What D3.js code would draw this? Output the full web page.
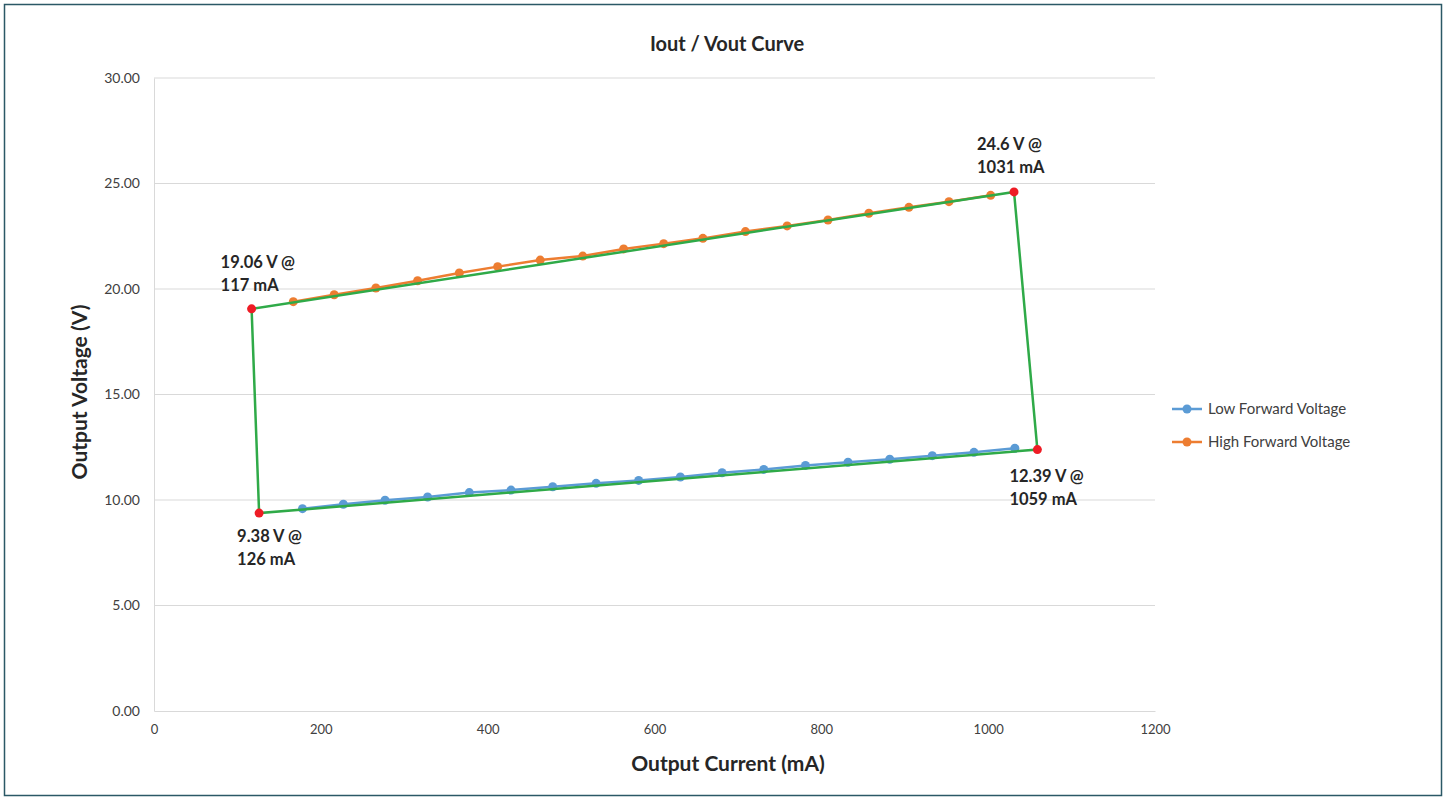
<!DOCTYPE html>
<html>
<head>
<meta charset="utf-8">
<script src="https://cdn.jsdelivr.net/npm/d3@7"></script>
<style>
  html, body { margin: 0; padding: 0; background: #fff; }
  svg { display: block; }
</style>
</head>
<body>
<svg id="chart" width="1445" height="799"></svg>
<script>
// ---- Data ----
const lowCurrent  = [178, 227, 277, 328, 378, 428, 478, 530, 581, 631, 681, 731, 781, 832, 882, 933, 983, 1032];
const lowVoltage  = [9.59, 9.80, 9.99, 10.14, 10.35, 10.47, 10.63, 10.79, 10.93, 11.09, 11.29, 11.45, 11.64, 11.79, 11.93, 12.10, 12.26, 12.45];
const highCurrent = [167, 216, 266, 316, 366, 412, 463, 514, 563, 611, 658, 709, 759, 808, 857, 905, 953, 1003];
const highVoltage = [19.40, 19.73, 20.05, 20.39, 20.76, 21.06, 21.37, 21.56, 21.90, 22.15, 22.40, 22.72, 22.99, 23.27, 23.59, 23.87, 24.14, 24.44];
const boxCurrent  = [117, 1031, 1059, 126, 117];
const boxVoltage  = [19.06, 24.6, 12.39, 9.38, 19.06];
const cornerLabels = [
  { i: 0, lines: ["19.06 V @", "117 mA"] },
  { i: 1, lines: ["24.6 V @", "1031 mA"] },
  { i: 2, lines: ["12.39 V @", "1059 mA"] },
  { i: 3, lines: ["9.38 V @", "126 mA"] }
];
const xTicks = [0, 200, 400, 600, 800, 1000, 1200];
const yTicks = [0, 5, 10, 15, 20, 25, 30];
const seriesNames = ["Low Forward Voltage", "High Forward Voltage"];
const seriesColors = ["#5b9bd5", "#ed7d31"];

// ---- Layout ----
const svg = d3.select("#chart");
const W = 1445, H = 799;
const plot = { left: 154, right: 1155, top: 78, bottom: 711 };
const FONT = "Lato, 'Open Sans', sans-serif";

svg.append("rect").attr("x", 4.5).attr("y", 4.5).attr("width", W - 8).attr("height", H - 8)
  .attr("fill", "#fff").attr("stroke", "#2b5866").attr("stroke-width", 1.5);

const x = d3.scaleLinear().domain([0, 1200]).range([plot.left, plot.right]);
const y = d3.scaleLinear().domain([0, 30]).range([plot.bottom, plot.top]);

// gridlines
svg.append("g").selectAll("line").data(yTicks.filter(d => d > 0)).join("line")
  .attr("x1", plot.left).attr("x2", plot.right)
  .attr("y1", d => y(d)).attr("y2", d => y(d))
  .attr("stroke", "#d9d9d9").attr("stroke-width", 1);

// axes
const yAxis = svg.append("g").attr("transform", `translate(${plot.left},0)`)
  .call(d3.axisLeft(y).tickValues(yTicks).tickFormat(d3.format(".2f")).tickSize(0).tickPadding(14));
yAxis.select(".domain").attr("stroke", "#d9d9d9");
yAxis.selectAll("text").attr("font-family", FONT).attr("font-size", 14).attr("fill", "#404040");

const xAxis = svg.append("g").attr("transform", `translate(0,${plot.bottom})`)
  .call(d3.axisBottom(x).tickValues(xTicks).tickFormat(d3.format("d")).tickSize(0).tickPadding(14));
xAxis.select(".domain").attr("stroke", "#d9d9d9");
xAxis.selectAll("text").attr("font-family", FONT).attr("font-size", 13).attr("fill", "#404040");

// titles
svg.append("text").attr("x", 727).attr("y", 51).attr("text-anchor", "middle")
  .attr("font-family", FONT).attr("font-weight", "bold").attr("font-size", 20).attr("fill", "#262626")
  .text("Iout / Vout Curve");
svg.append("text").attr("x", 728).attr("y", 771).attr("text-anchor", "middle")
  .attr("font-family", FONT).attr("font-weight", "bold").attr("font-size", 21).attr("fill", "#262626")
  .text("Output Current (mA)");
svg.append("text").attr("transform", `translate(87,392) rotate(-90)`).attr("text-anchor", "middle")
  .attr("font-family", FONT).attr("font-weight", "bold").attr("font-size", 21).attr("fill", "#262626")
  .text("Output Voltage (V)");

// series
const series = [
  { xs: lowCurrent, ys: lowVoltage, color: seriesColors[0] },
  { xs: highCurrent, ys: highVoltage, color: seriesColors[1] }
];
const line = d3.line().x(d => x(d[0])).y(d => y(d[1]));
series.forEach(s => {
  const pts = s.xs.map((v, i) => [v, s.ys[i]]);
  svg.append("path").datum(pts).attr("d", line)
    .attr("fill", "none").attr("stroke", s.color).attr("stroke-width", 2.5);
  svg.append("g").selectAll("circle").data(pts).join("circle")
    .attr("cx", d => x(d[0])).attr("cy", d => y(d[1])).attr("r", 4.5).attr("fill", s.color);
});

// green boundary
const boxPts = boxCurrent.map((v, i) => [v, boxVoltage[i]]);
svg.append("path").datum(boxPts).attr("d", line)
  .attr("fill", "none").attr("stroke", "#2faa48").attr("stroke-width", 2.5);
svg.append("g").selectAll("circle").data(boxPts.slice(0, 4)).join("circle")
  .attr("cx", d => x(d[0])).attr("cy", d => y(d[1])).attr("r", 4.5).attr("fill", "#ee1c25");

// corner labels
const labelOffsets = [[-31, -41], [-37, -42], [-28, 32], [-22, 29]];
cornerLabels.forEach((c, k) => {
  const px = x(boxCurrent[c.i]) + labelOffsets[k][0];
  const py = y(boxVoltage[c.i]) + labelOffsets[k][1];
  const t = svg.append("text").attr("font-family", FONT).attr("font-weight", "bold")
    .attr("font-size", 16.5).attr("fill", "#262626");
  c.lines.forEach((ln, j) => {
    t.append("tspan").attr("x", px).attr("y", py + j * 23).text(ln);
  });
});

// legend
seriesNames.forEach((name, i) => {
  const ly = 409 + i * 33;
  const g = svg.append("g");
  g.append("line").attr("x1", 1172).attr("x2", 1202).attr("y1", ly).attr("y2", ly)
    .attr("stroke", seriesColors[i]).attr("stroke-width", 2.5);
  g.append("circle").attr("cx", 1187).attr("cy", ly).attr("r", 4.5).attr("fill", seriesColors[i]);
  g.append("text").attr("x", 1208).attr("y", ly + 5).attr("font-family", FONT)
    .attr("font-size", 15).attr("fill", "#404040").text(name);
});
</script>
</body>
</html>
